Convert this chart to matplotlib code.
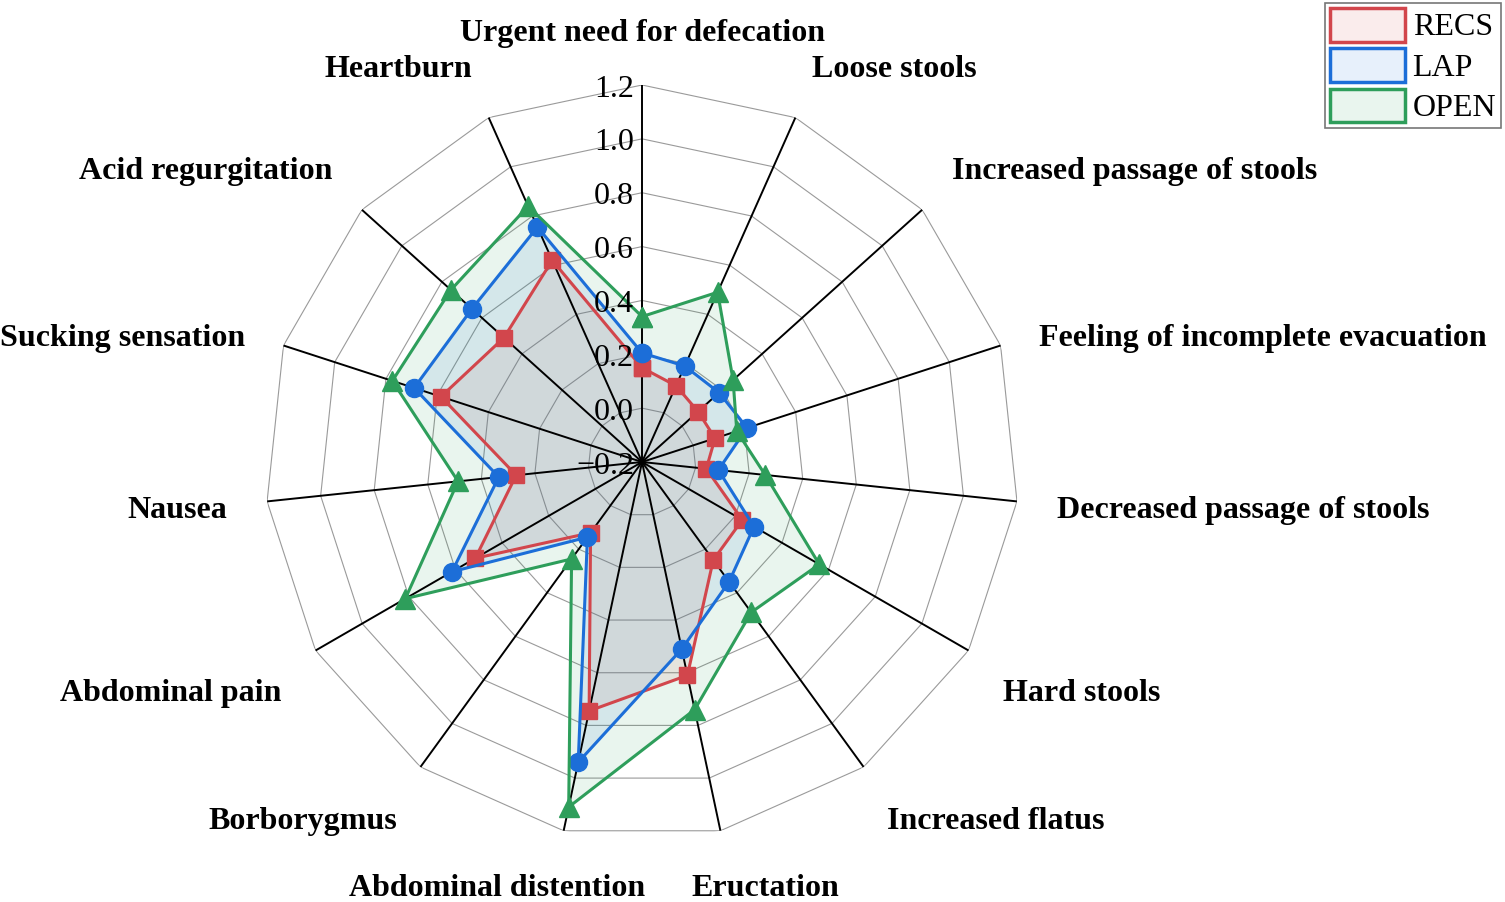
import numpy as np
import matplotlib
matplotlib.use("Agg")
import matplotlib.pyplot as plt
from matplotlib.patches import Patch
from matplotlib.transforms import offset_copy
from matplotlib.colors import to_rgba

# ---------------- data ----------------
categories = [
    "Urgent need for defecation", "Loose stools", "Increased passage of stools",
    "Feeling of incomplete evacuation", "Decreased passage of stools", "Hard stools",
    "Increased flatus", "Eructation", "Abdominal distention", "Borborygmus",
    "Abdominal pain", "Nausea", "Sucking sensation", "Acid regurgitation", "Heartburn",
]
recs = [0.15, 0.11, 0.08, 0.085, 0.04, 0.23, 0.25, 0.61, 0.745, 0.125, 0.515, 0.27, 0.585, 0.49, 0.62]
lap = [0.205, 0.19, 0.185, 0.21, 0.085, 0.28, 0.35, 0.51, 0.94, 0.145, 0.615, 0.335, 0.69, 0.65, 0.755]
open_ = [0.34, 0.49, 0.255, 0.17, 0.26, 0.56, 0.49, 0.74, 1.11, 0.245, 0.815, 0.487, 0.775, 0.755, 0.84]
series_names = ["RECS", "LAP", "OPEN"]
r_ticks = [-0.2, 0.0, 0.2, 0.4, 0.6, 0.8, 1.0, 1.2]
r_tick_labels = ["\u22120.2", "0.0", "0.2", "0.4", "0.6", "0.8", "1.0", "1.2"]

# ---------------- style ----------------
colors = ["#D2464C", "#1C6ED8", "#2E9E5B"]
markers = ["s", "o", "^"]
msizes = [11, 13, 14]
serif = "Liberation Serif"
FS = 23

fig = plt.figure(figsize=(15.05, 9.02), dpi=100)
ax = fig.add_axes([0.1761, 0.0698, 0.501, 0.836], projection="polar")
ax.set_theta_offset(np.pi / 2)
ax.set_theta_direction(-1)
ax.set_ylim(r_ticks[0], r_ticks[-1])
ax.set_xticks([])
ax.set_yticks([])
ax.grid(False)
ax.spines["polar"].set_visible(False)
ax.patch.set_visible(False)

n = len(categories)
angles = np.arange(n) * 2 * np.pi / n
closed = np.append(angles, angles[0])

# polygon grid rings
for v in r_ticks[1:]:
    ax.plot(closed, [v] * (n + 1), color="#9a9a9a", lw=0.8, zorder=1)
# spokes
for a in angles:
    ax.plot([a, a], [r_ticks[0], r_ticks[-1]], color="black", lw=1.4, zorder=3)

# series
for i, (vals, c, m, ms) in enumerate(zip([recs, lap, open_], colors, markers, msizes)):
    vc = np.append(vals, vals[0])
    ax.fill(closed, vc, color=c, alpha=0.1, lw=0, zorder=2)
    ax.plot(closed, vc, color=c, lw=2.2, marker=m, ms=ms, zorder=4 + i, clip_on=False)

# radial tick labels
tr = offset_copy(ax.transData, fig=fig, x=-8, y=-4, units="dots")
for v, lab in zip(r_ticks, r_tick_labels):
    ax.text(0, v, lab, transform=tr, ha="right", va="center", fontsize=FS,
            family=serif, zorder=10)

# category labels
label_gap = 40  # px beyond outer ring
label_shift = {7: (37, 4), 8: (-58, 4)}  # nudges for the two bottom labels
va_nudge = {"bottom": -3, "center": -5, "top": -8}
for i, (a, cat) in enumerate(zip(angles, categories)):
    phi = np.pi / 2 - a
    c, s = np.cos(phi), np.sin(phi)
    if abs(c) < 0.25:
        ha = "center"
    else:
        ha = "left" if c > 0 else "right"
    if s > 0.35:
        va = "bottom"
    elif s < -0.35:
        va = "top"
    else:
        va = "center"
    sx, sy = label_shift.get(i, (0, 0))
    dx = label_gap * c + sx
    dy = label_gap * s + va_nudge[va] + sy
    t = offset_copy(ax.transData, fig=fig, x=dx, y=dy, units="dots")
    ax.text(a, r_ticks[-1], cat, transform=t, ha=ha, va=va, fontsize=FS,
            family=serif, fontweight="bold", clip_on=False)

# legend
handles = [Patch(facecolor=to_rgba(c, 0.1), edgecolor=c, lw=2.5) for c in colors]
leg = fig.legend(handles, series_names, loc="upper right",
                 bbox_to_anchor=(1501 / 1505, 1 - 3 / 902),
                 prop={"family": serif, "size": FS}, frameon=True, fancybox=False,
                 edgecolor="#555555", handlelength=2.35, handleheight=1.25,
                 handletextpad=0.25, labelspacing=0.18, borderpad=0.15,
                 borderaxespad=0)
leg.get_frame().set_linewidth(1.2)

fig.savefig("out.png", dpi=100)
